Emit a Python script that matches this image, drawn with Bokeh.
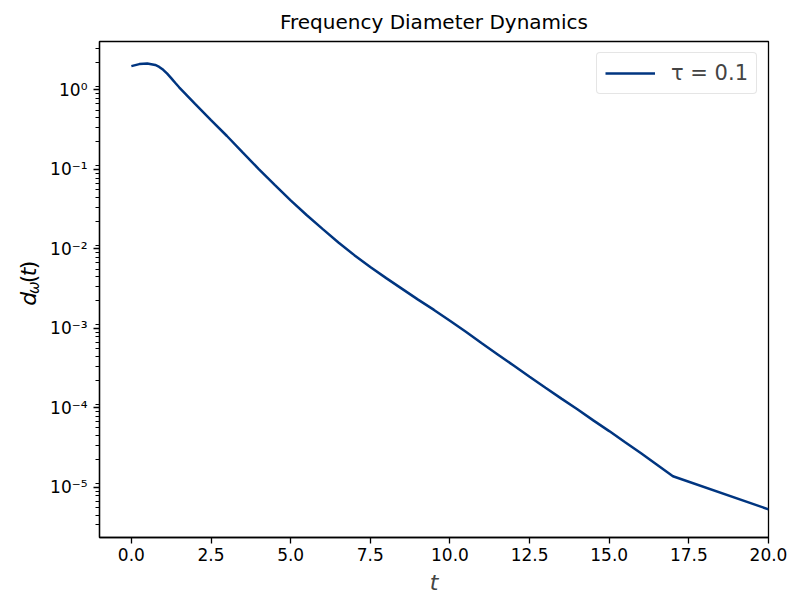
import math
from bokeh.plotting import figure
from bokeh.layouts import row
from bokeh.models import (Range1d, FixedTicker, LogTicker, NumeralTickFormatter,
                          CustomJSTickFormatter, Legend, LegendItem)
from bokeh.core.properties import value
from bokeh.embed import file_html
from bokeh.resources import INLINE

# ---- data ----
t_values = [0.0, 0.25, 0.5, 0.75, 0.875, 1.0, 1.125, 1.25, 1.375, 1.5, 2.0, 2.5,
            3.0, 3.5, 4.0, 4.5, 5.0, 5.5, 6.0, 6.5, 7.0, 7.5, 8.0, 8.5, 9.0,
            9.5, 10.0, 10.5, 11.0, 11.5, 12.0, 12.5, 13.0, 13.5, 14.0, 14.5,
            15.0, 15.5, 16.0, 16.5, 17.0, 20.0]
d_omega = [1.995, 2.113, 2.153, 2.06, 1.95, 1.79, 1.60, 1.41, 1.23, 1.08,
           0.668, 0.417, 0.263, 0.162, 0.101, 0.0638, 0.0407, 0.0266, 0.0178,
           0.012, 0.00832, 0.00589, 0.00427, 0.00313, 0.00229, 0.0017, 0.00124,
           0.000902, 0.000646, 0.000468, 0.000339, 0.000245, 0.000178, 0.00013,
           9.55e-05, 6.92e-05, 5.07e-05, 3.67e-05, 2.66e-05, 1.91e-05, 1.37e-05,
           5.25e-06]
series_label = "τ = 0.1"
x_ticks = [0.0, 2.5, 5.0, 7.5, 10.0, 12.5, 15.0, 17.5, 20.0]
title_text = "Frequency Diameter Dynamics"
y_label_parts = ["d", "ω", "(", "t", ")"]

FONT = "DejaVu Sans"
LINE_COLOR = "#003580"
LABEL_W = 44
H = 599

p = figure(width=791 - LABEL_W, height=H, y_axis_type="log",
           x_range=Range1d(-1, 20), y_range=Range1d(2.32e-6, 4.07),
           output_backend="svg", toolbar_location=None,
           min_border_left=99 - LABEL_W, min_border_right=23, min_border_top=40,
           min_border_bottom=62, title=title_text)

p.background_fill_color = "white"
p.border_fill_color = "white"
p.outline_line_color = "black"
p.outline_line_width = 1.3
p.grid.visible = False

p.title.align = "center"
p.title.text_font = FONT
p.title.text_font_size = "20px"
p.title.text_font_style = "normal"
p.title.text_color = "black"
p.title.standoff = 15

r = p.line(t_values, d_omega, line_color=LINE_COLOR, line_width=2.5)

# x axis
xa = p.xaxis[0]
xa.ticker = FixedTicker(ticks=x_ticks, minor_ticks=[])
xa.formatter = NumeralTickFormatter(format="0.0")
xa.axis_label = "t"
xa.axis_label_text_font_style = "italic"
xa.axis_label_text_font = FONT
xa.axis_label_text_font_size = "22px"
xa.axis_label_standoff = 6

# y axis
ya = p.yaxis[0]
ya.ticker = LogTicker(num_minor_ticks=9)
ya.formatter = CustomJSTickFormatter(code="""
const e = Math.round(Math.log10(tick));
const sup = {'-':'\u207b','0':'\u2070','1':'\u00b9','2':'\u00b2','3':'\u00b3',
             '4':'\u2074','5':'\u2075','6':'\u2076','7':'\u2077','8':'\u2078','9':'\u2079'};
return '10' + String(e).split('').map(c => sup[c]).join('');
""")

for ax in (xa, ya):
    ax.major_label_text_font = FONT
    ax.major_label_text_font_size = "17px"
    ax.major_label_text_color = "black"
    ax.axis_line_color = "black"
    ax.axis_line_width = 1.3
    ax.major_tick_line_color = "black"
    ax.minor_tick_line_color = "black"
    ax.major_tick_line_width = 1.3
    ax.minor_tick_line_width = 1.0
    ax.major_tick_out = 6
    ax.major_tick_in = 0
    ax.minor_tick_out = 4
    ax.minor_tick_in = 0
xa.major_label_standoff = 4
ya.major_label_standoff = 6

legend = Legend(items=[LegendItem(label=series_label, renderers=[r])],
                location="top_right")
legend.label_text_font = FONT
legend.label_text_font_size = "21px"
legend.glyph_width = 50
legend.glyph_height = 22
legend.label_standoff = 16
legend.padding = 8
legend.margin = 11
legend.border_line_color = "#cccccc"
legend.border_line_width = 1
legend.background_fill_alpha = 0.8
legend.spacing = 0
if "border_radius" in legend.properties():
    legend.border_radius = 4
p.add_layout(legend)

# narrow side panel holding the rotated y-axis label d_ω(t)
lab = figure(width=LABEL_W, height=H, x_range=Range1d(0, LABEL_W),
             y_range=Range1d(0, H), x_axis_type=None, y_axis_type=None,
             output_backend="svg", toolbar_location=None, min_border=0)
lab.outline_line_color = None
lab.grid.visible = False
lab.background_fill_color = "white"
lab.border_fill_color = "white"

# screen positions (pixels from the panel's bottom-left)
label_x = [28, 33, 28, 28, 28]
label_y = [H - 319, H - 305, H - 292, H - 283.5, H - 275]
label_size = ["22px", "15px", "22px", "22px", "22px"]
label_style = ["italic", "italic", "normal", "italic", "normal"]
for txt, xx, yy, fs, st in zip(y_label_parts, label_x, label_y, label_size, label_style):
    lab.text(x=[xx], y=[yy], text=[txt], angle=math.pi / 2,
             text_align="left", text_baseline="alphabetic",
             text_font=value(FONT), text_font_size=fs, text_font_style=st,
             text_color="black")

layout = row(lab, p, spacing=0)
open("out.html", "w").write(file_html(layout, INLINE))
